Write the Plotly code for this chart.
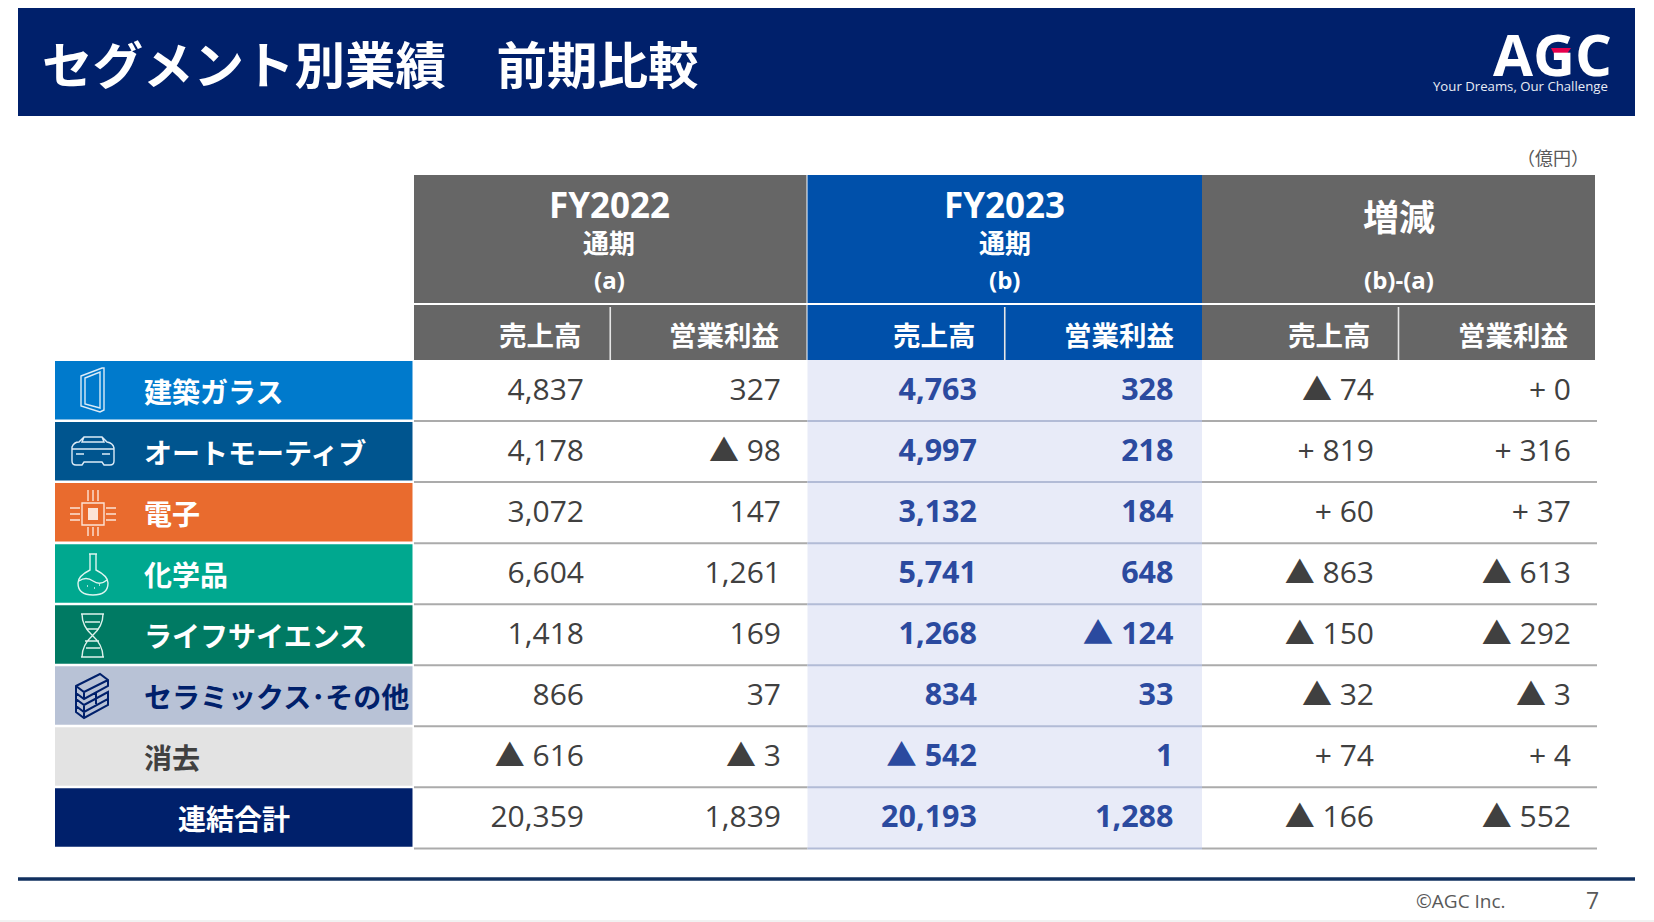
import plotly.graph_objects as go

# ---------- data ----------
segments = ["建築ガラス", "オートモーティブ", "電子", "化学品", "ライフサイエンス", "セラミックス･その他", "消去", "連結合計"]
fy22_sales = [4837, 4178, 3072, 6604, 1418, 866, -616, 20359]
fy22_profit = [327, -98, 147, 1261, 169, 37, -3, 1839]
fy23_sales = [4763, 4997, 3132, 5741, 1268, 834, -542, 20193]
fy23_profit = [328, 218, 184, 648, -124, 33, 1, 1288]
diff_sales = [-74, 819, 60, -863, -150, -32, 74, -166]
diff_profit = [0, 316, 37, -613, -292, -3, 4, -552]
sub_heads = ["売上高", "営業利益"]
title = "セグメント別業績　前期比較"

# ---------- styling ----------
NAVY = "#00206B"; GRAY = "#666666"; BLUE = "#0050AA"; HILITE = "#E8EBF8"
TXT = "#404040"; HTXT = "#2B4A9F"
seg_fill = ["#007ACC", "#00558F", "#E96B2E", "#00A88F", "#007A63", "#B8C2D6", "#E3E3E3", NAVY]
seg_text = ["white"] * 5 + [NAVY, TXT, "white"]
LAT = "Open Sans, Noto Sans CJK JP, sans-serif"
JP = "Noto Sans CJK JP, sans-serif"
ROW_TOP, ROW_H = 360, 61.05

shapes, annos = [], []

def rect(x0, y0, x1, y1, fill):
    shapes.append(dict(type="rect", xref="x", yref="y", x0=x0, y0=y0, x1=x1, y1=y1,
                       fillcolor=fill, line_width=0, layer="below"))

def line(x0, y0, x1, y1, color, w=2):
    shapes.append(dict(type="line", xref="x", yref="y", x0=x0, y0=y0, x1=x1, y1=y1,
                       line=dict(color=color, width=w), layer="below"))

def label(x, y, text, size, color="white", anchor="center", fam=JP, bold=True):
    annos.append(dict(xref="x", yref="y", x=x, y=y, text=f"<b>{text}</b>" if bold else text,
                      showarrow=False, xanchor=anchor, yanchor="middle",
                      font=dict(family=fam, size=size, color=color)))

# banner
rect(18, 8, 1635, 116, NAVY)
label(40, 62, title, 50.5, anchor="left")
label(1552, 53, "AGC", 58, fam="Open Sans, sans-serif", anchor="center")
shapes.append(dict(type="path", xref="x", yref="y", path="M1551,48 L1571,48 L1564,58 L1556,58 Z",
                   fillcolor="#E6004C", line_width=0, layer="above"))
label(1610, 86, "Your Dreams, Our Challenge", 13.2, color="#E8ECF5", anchor="right", fam=LAT, bold=False)
label(1553, 157, "（億円）", 18, color="#595959", bold=False)

# table headers
for x0, x1, fill in [(414, 806.5, GRAY), (807.5, 1202, BLUE), (1202, 1595, GRAY)]:
    rect(x0, 175, x1, 303, fill)
    rect(x0, 305, x1, 360, fill)
    xm = (x0 + x1) / 2
    line(xm, 307, xm, 360, "#E6E6E6", 1.6)
for xc, fy, suffix in [(609, "FY2022", "(a)"), (1004.5, "FY2023", "(b)")]:
    label(xc, 204, fy, 35, fam=LAT)
    label(xc, 241, "通期", 26, bold=True)
    label(xc, 279, suffix, 24, fam=LAT)
label(1399, 215, "増減", 36)
label(1399, 279, "(b)-(a)", 24, fam=LAT)
for xr in [(584, 781), (977.5, 1176), (1373, 1570)]:
    label(xr[0], 334, sub_heads[0], 27.5, anchor="right")
    label(xr[1], 334, sub_heads[1], 27.5, anchor="right")

# body
rect(807.5, 360, 1202, ROW_TOP + 8 * ROW_H, HILITE)
for i, seg in enumerate(segments):
    y0 = ROW_TOP + i * ROW_H
    rect(55, y0 + 1, 412.5, y0 + 59.5, seg_fill[i])
    yc = y0 + 31
    if i == 7:
        label(233.5, yc, seg, 28, color=seg_text[i])
    else:
        label(142, yc, seg, 28, color=seg_text[i], anchor="left")
    yl = y0 + ROW_H
    line(414, yl, 807.5, yl, "#ABABAB")
    line(807.5, yl, 1202, yl, "#B2BBD6")
    line(1202, yl, 1597, yl, "#ABABAB")

# footer
line(18, 879, 1635, 879, "#11305F", 3.5)
rect(0, 920, 1654, 922, "#F1F1F1")
label(1414, 901, "©AGC Inc.", 19, color="#595959", anchor="left", fam=LAT, bold=False)
label(1601, 900, "7", 23, color="#595959", anchor="right", fam=LAT, bold=False)

# icons (thin outlines in page pixels)
def icon(d, color="white", w=1.4):
    shapes.append(dict(type="path", xref="x", yref="y", path=d, fillcolor="rgba(0,0,0,0)",
                       line=dict(color=color, width=w), layer="above"))

LT = "#DCEBF7"
icon("M81,376 L102,368 L104,368 L104,410 L100,412 L81,406 Z M81,376 L81,406 M85,378 L100,372 L100,408 L85,404 Z", LT)
icon("M72,447 Q74,442 79,442 L84,437 L102,437 L107,442 Q113,443 114,448 L114,461 Q114,465 110,465 L104,465 L102,462 L84,462 L82,465 L76,465 Q72,465 72,461 Z "
     "M72,449 L114,449 M84,437 L82,442 L104,442 L102,437 M76,454 L84,454 M102,454 L110,454", LT)
icon("M82,503 L104,503 L104,525 L82,525 Z M70,508 L80,508 M70,514 L80,514 M70,520 L80,520 M106,508 L116,508 M106,514 L116,514 M106,520 L116,520 "
     "M88,490 L88,501 M93,490 L93,501 M98,490 L98,501 M88,527 L88,536 M93,527 L93,536 M98,527 L98,536", "#FCE3D6")
shapes.append(dict(type="rect", xref="x", yref="y", x0=88, y0=508, x1=98, y1=520, fillcolor="#FCE3D6", line_width=0, layer="above"))
icon("M89,554 L97,554 M90,554 L90,570 Q78,576 78,583 Q78,595 93,595 Q108,595 108,583 Q108,576 96,570 L96,554 "
     "M79,581 Q86,576 93,581 Q100,586 107,580 M87,586 L88,586 M94,588 L95,588 M99,585 L100,585", "#DDF5F0")
icon("M82,614 Q82,626 92,635 Q103,645 103,657 M103,614 Q103,626 93,635 Q82,645 82,657 M81,614 L104,614 M81,657 L104,657 "
     "M85,622 L100,622 M86,648 L100,648 M85,641 L99,641 M86,629 L99,629", "#DDF2EC")
icon("M76,686 L100,674 L108,680 L108,686 L84,699 L76,693 Z M76,686 L84,692 L108,680 M84,692 L84,699 "
     "M76,693 L76,699 L84,705 L108,692 L108,699 L84,712 L76,706 Z M84,705 L84,712 M76,706 L76,712 L84,718 L108,705 L108,699 M84,712 L84,718 M96,692 L96,704", NAVY, 2)

# ---------- number columns ----------
def fmt(v):
    return f"▲ {abs(v):,}" if v < 0 else f"{v:,}"

def fmt_diff(v):
    return f"▲ {abs(v):,}" if v < 0 else f"+ {v:,}"

columns = [
    (584, [fmt(v) for v in fy22_sales], TXT, False),
    (781, [fmt(v) for v in fy22_profit], TXT, False),
    (977, [fmt(v) for v in fy23_sales], HTXT, True),
    (1173.5, [fmt(v) for v in fy23_profit], HTXT, True),
    (1374, [fmt_diff(v) for v in diff_sales], TXT, False),
    (1571, [fmt_diff(v) for v in diff_profit], TXT, False),
]
row_y = [ROW_TOP + i * ROW_H + 32 for i in range(len(segments))]

fig = go.Figure()
for xr, texts, color, bold in columns:
    fig.add_trace(go.Scatter(
        x=[xr] * len(texts), y=row_y, mode="text", textposition="middle left",
        text=[f"<b>{t}</b>" if bold else t for t in texts],
        textfont=dict(family=LAT, size=30.5 if bold else 30, color=color),
        hoverinfo="skip", showlegend=False, cliponaxis=False))

fig.update_layout(
    width=1654, height=922, margin=dict(l=0, r=0, t=0, b=0, pad=0),
    paper_bgcolor="white", plot_bgcolor="white", showlegend=False,
    xaxis=dict(range=[0, 1654], visible=False, fixedrange=True),
    yaxis=dict(range=[922, 0], visible=False, fixedrange=True),
    shapes=shapes, annotations=annos)
fig.write_html("out.html", config=dict(displayModeBar=False),
               post_script="document.body.style.margin='0';document.body.style.overflow='hidden';")
